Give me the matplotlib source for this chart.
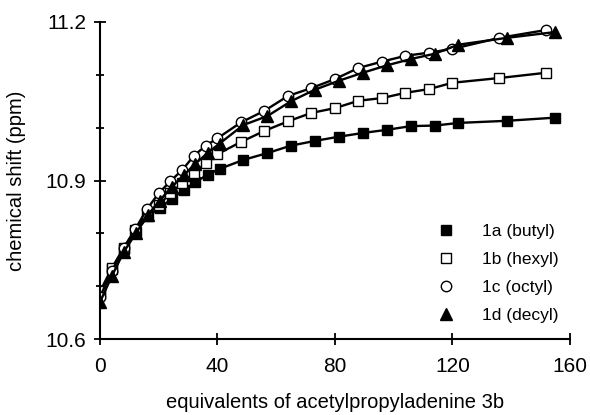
import matplotlib
matplotlib.use("Agg")
import matplotlib.pyplot as plt
from matplotlib.ticker import MultipleLocator, FixedLocator

# equivalents of 3b added (1a and 1d were read slightly further right)
x_bc = [0, 4, 8, 12, 16, 20, 24, 28, 32, 36, 40, 48, 56, 64, 72, 80, 88,
        96, 104, 112, 120, 136, 152]
x_ad = [0, 4.1, 8.1, 12.2, 16.3, 20.3, 24.4, 28.5, 32.5, 36.6, 40.7, 48.8,
        57, 65, 73.2, 81.4, 89.5, 97.7, 105.9, 114, 122, 138.5, 155]

# chemical shift (ppm)
shift_1a = [10.685, 10.732, 10.770, 10.803, 10.832, 10.848, 10.865, 10.882,
            10.897, 10.911, 10.922, 10.939, 10.952, 10.966, 10.975, 10.983,
            10.990, 10.996, 11.003, 11.004, 11.009, 11.013, 11.019]
shift_1b = [10.690, 10.734, 10.772, 10.806, 10.836, 10.854, 10.876, 10.895,
            10.914, 10.933, 10.950, 10.973, 10.994, 11.012, 11.028, 11.037,
            11.051, 11.056, 11.066, 11.073, 11.085, 11.094, 11.104]
shift_1c = [10.680, 10.728, 10.772, 10.808, 10.846, 10.876, 10.899, 10.920,
            10.947, 10.966, 10.980, 11.010, 11.032, 11.060, 11.075, 11.092,
            11.113, 11.125, 11.136, 11.142, 11.149, 11.170, 11.185]
shift_1d = [10.670, 10.720, 10.765, 10.800, 10.835, 10.862, 10.888, 10.910,
            10.932, 10.952, 10.970, 11.005, 11.022, 11.050, 11.072, 11.089,
            11.104, 11.118, 11.130, 11.140, 11.157, 11.170, 11.181]

labels = ["1a (butyl)", "1b (hexyl)", "1c (octyl)", "1d (decyl)"]
y_major = [10.6, 10.9, 11.2]
y_minor = [10.7, 10.8, 11.0, 11.1]

plt.rcParams["font.family"] = ["Liberation Sans", "DejaVu Sans"]

fig = plt.figure(figsize=(5.9, 4.15), dpi=100)
ax = fig.add_axes([0.1695, 0.183, 0.7965, 0.764])

series = [
    (x_ad, shift_1a, "s", "black", 7.5),
    (x_bc, shift_1b, "s", "white", 7.5),
    (x_bc, shift_1c, "o", "white", 7.5),
    (x_ad, shift_1d, "^", "black", 8),
]
for (xs, ys, m, fc, ms), lab in zip(series, labels):
    ax.plot(xs, ys, color="black", lw=1.7)
    ax.plot(xs, ys, ls="none", marker=m, ms=ms, mfc=fc, mec="black",
            mew=1.0, label=lab)

ax.set_xlim(0, 160)
ax.set_ylim(10.6, 11.2)
ax.xaxis.set_major_locator(MultipleLocator(40))
ax.yaxis.set_major_locator(FixedLocator(y_major))
ax.yaxis.set_minor_locator(FixedLocator(y_minor))
ax.yaxis.set_major_formatter(plt.FuncFormatter(lambda v, p: "%.1f" % v))

for s in ("top", "right"):
    ax.spines[s].set_visible(False)
for s in ("left", "bottom"):
    ax.spines[s].set_linewidth(1.5)
ax.tick_params(axis="x", which="major", direction="inout", length=8,
               width=1.3, labelsize=15, pad=9)
ax.tick_params(axis="y", which="major", direction="inout", length=8,
               width=1.3, labelsize=15, pad=6)
ax.tick_params(axis="y", which="minor", direction="inout", length=6,
               width=1.3)

ax.set_xlabel("equivalents of acetylpropyladenine 3b", fontsize=14.5,
              labelpad=12)
ax.set_ylabel("chemical shift (ppm)", fontsize=14.5, labelpad=14)

ax.legend(loc="lower right", frameon=False, fontsize=12.5, handlelength=1.0,
          handletextpad=1.6, labelspacing=0.75, bbox_to_anchor=(1.01, 0.0))

fig.savefig("out.png", dpi=100)
